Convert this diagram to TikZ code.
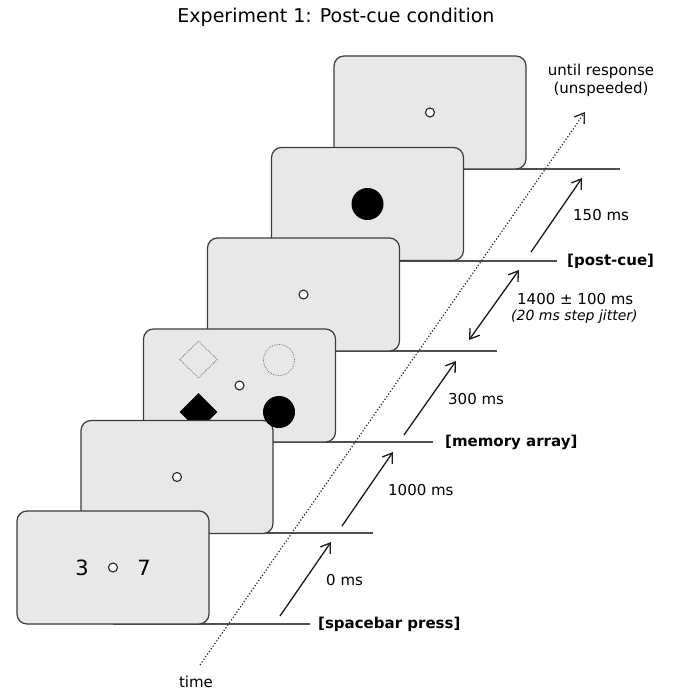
\documentclass[tikz,border=0pt]{standalone}
\usepackage{fontspec}
\setmainfont{DejaVu Sans}
\usetikzlibrary{arrows.meta,shapes.geometric}
\definecolor{scrfill}{RGB}{232,232,232}
\definecolor{scrline}{RGB}{60,60,60}
\definecolor{tlcol}{RGB}{80,80,80}
\definecolor{dotcol}{RGB}{120,120,120}
\tikzset{
  screen/.style={draw=scrline, line width=1.2pt, fill=scrfill, rounded corners=10pt,
    minimum width=192pt, minimum height=113pt, inner sep=0pt},
  fixdot/.style={circle, draw=black!85, fill=white, line width=1.1pt, minimum size=9pt, inner sep=0pt},
  bigdisk/.style={circle, fill=black, minimum size=32pt, inner sep=0pt},
  tline/.style={draw=tlcol, line width=1.3pt},
  tarrow/.style={draw=black!90, line width=1.3pt, -{Straight Barb[length=9pt,width=12pt,line width=1.3pt]}},
  tdarrow/.style={draw=black!90, line width=1.3pt, {Straight Barb[length=9pt,width=12pt,line width=1.3pt]}-{Straight Barb[length=9pt,width=12pt,line width=1.3pt]}},
  lab/.style={font=\fontsize{15}{17}\selectfont, inner sep=0pt, anchor=west},
  blab/.style={font=\fontsize{15}{17}\selectfont\bfseries, inner sep=0pt, anchor=west},
}
\begin{document}
\begin{tikzpicture}[x=1pt,y=-1pt]
\useasboundingbox (0,0) rectangle (672,693);
% title
\node[font=\fontsize{19}{21}\selectfont, inner sep=0pt] (title) at (336,17) {Experiment 1: Post-cue condition};

% screen 6
\coordinate (e6) at (620,169);
\draw[tline] (430,169) -- (e6);
\node[screen] (s6) at (430,112.5) {};
\node[fixdot] (f6) at (s6.center) {};

% screen 5
\coordinate (e5) at (557,261);
\draw[tline] (367.5,261) -- (e5);
\node[screen] (s5) at (367.5,204) {};
\node[bigdisk] (d5) at (s5.center) {};

% screen 4
\coordinate (e4) at (497,351);
\draw[tline] (303.5,351) -- (e4);
\node[screen] (s4) at (303.5,294.5) {};
\node[fixdot] (f4) at (s4.center) {};

% screen 3 (memory array)
\coordinate (e3) at (433,442);
\draw[tline] (239.5,442) -- (e3);
\node[screen] (s3) at (239.5,385.5) {};
\node[fixdot] (f3) at (s3.center) {};
\node[diamond, draw=dotcol, line width=0.8pt, densely dotted, minimum width=38pt, minimum height=37pt, inner sep=0pt] (dd) at (198.5,359.5) {};
\node[circle, draw=dotcol, line width=0.8pt, densely dotted, minimum size=31pt, inner sep=0pt] (dc) at (279,360) {};
\node[diamond, fill=black, minimum width=38pt, minimum height=38pt, inner sep=0pt] (bd) at (198.5,412) {};

% screen 2
\coordinate (e2) at (373,533);
\draw[tline] (177,533) -- (e2);
\node[screen] (s2) at (177,477) {};
\node[fixdot] (f2) at (s2.center) {};
\node[bigdisk] (bc) at (279,412) {};

% screen 1
\coordinate (e1) at (310,624);
\draw[tline] (113,624) -- (e1);
\node[screen] (s1) at (113,567.5) {};
\node[fixdot] (f1) at (s1.center) {};
\node[font=\fontsize{21}{24}\selectfont, inner sep=0pt] (n3) at (82,568) {3};
\node[font=\fontsize{21}{24}\selectfont, inner sep=0pt] (n7) at (144,568) {7};

% time arrow
\coordinate (t0) at (200,665);
\coordinate (t1) at (585,112);
\draw[draw=black!85, line width=1.2pt, dotted, -{Straight Barb[length=9pt,width=12pt,line width=1.3pt]}] (t0) -- (t1);
\node[font=\fontsize{15}{17}\selectfont, inner sep=0pt] (time) at (196,682) {time};

% interval arrows
\coordinate (a0s) at (280,616); \coordinate (a0e) at (331,542);
\coordinate (a1s) at (342,526); \coordinate (a1e) at (393,452);
\coordinate (a2s) at (404,435); \coordinate (a2e) at (456,361);
\coordinate (a3s) at (469,340); \coordinate (a3e) at (519,270);
\coordinate (a4s) at (531,252); \coordinate (a4e) at (582,178);
\draw[tarrow] (a0s) -- (a0e);
\draw[tarrow] (a1s) -- (a1e);
\draw[tarrow] (a2s) -- (a2e);
\draw[tdarrow] (a3s) -- (a3e);
\draw[tarrow] (a4s) -- (a4e);

% labels
\node[lab] (l0) at (326,580) {0 ms};
\node[lab] (l1) at (388,490) {1000 ms};
\node[lab] (l2) at (448,399) {300 ms};
\node[lab] (l3) at (517,299) {1400 ± 100 ms};
\node[lab, font=\fontsize{14}{16}\selectfont\itshape] (l3b) at (511,317) {(20 ms step jitter)};
\node[lab] (l4) at (573,215) {150 ms};
\node[font=\fontsize{15}{17}\selectfont, inner sep=0pt] (u1) at (601,71) {until response};
\node[font=\fontsize{15}{17}\selectfont, inner sep=0pt] (u2) at (601,89) {(unspeeded)};

\node[blab] (m1) at (318,624) {[spacebar press]};
\node[blab] (m2) at (445,442) {[memory array]};
\node[blab] (m3) at (567,261) {[post-cue]};
\end{tikzpicture}
\end{document}
